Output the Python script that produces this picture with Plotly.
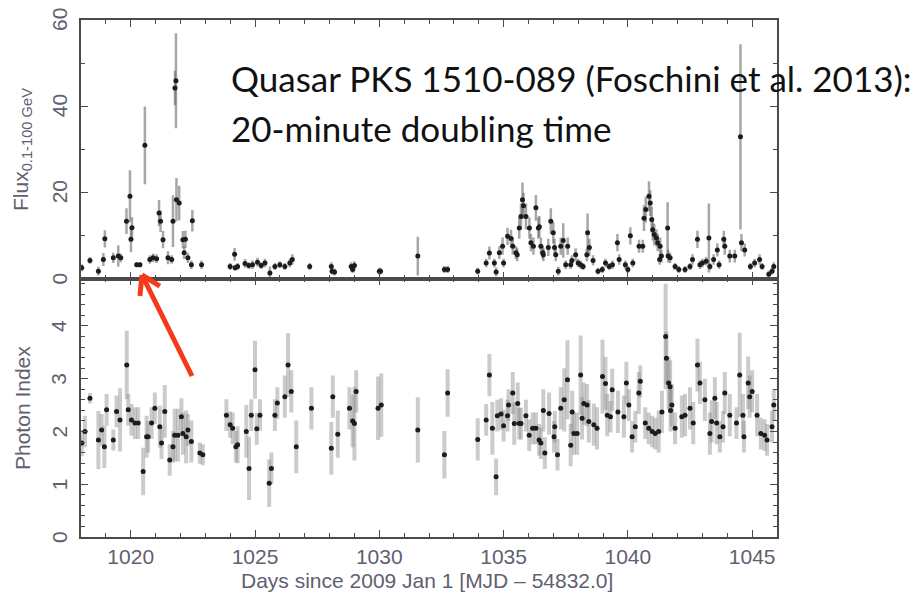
import math
import plotly.graph_objects as go
from plotly.subplots import make_subplots

# ---- Flux (0.1-100 GeV), 10^-6 ph cm^-2 s^-1 ----
flux_day = [1018.03, 1018.36, 1018.70, 1018.90, 1018.96, 1019.30, 1019.50, 1019.60, 1019.83, 1019.97,
            1020.01, 1020.05, 1020.24, 1020.37, 1020.57, 1020.77, 1020.90, 1021.04, 1021.14, 1021.20,
            1021.30, 1021.50, 1021.65, 1021.70, 1021.78, 1021.82, 1021.84, 1021.95, 1022.10, 1022.15,
            1022.20, 1022.30, 1022.44, 1022.48, 1022.85,
            1024.00, 1024.18, 1024.20, 1024.30, 1024.60, 1024.75, 1024.90, 1025.10, 1025.25, 1025.40,
            1025.60, 1025.80, 1026.00, 1026.20, 1026.40, 1026.50, 1027.20, 1028.07, 1028.10, 1028.20,
            1028.87, 1028.93, 1029.00, 1030.00, 1030.05, 1031.55, 1032.62, 1032.75,
            1033.96, 1034.30, 1034.43, 1034.63, 1034.70, 1034.83, 1034.96, 1035.00, 1035.16, 1035.30,
            1035.37, 1035.50, 1035.55, 1035.63, 1035.70, 1035.76, 1035.80, 1035.90, 1036.04, 1036.10,
            1036.20, 1036.30, 1036.40, 1036.44, 1036.50, 1036.58, 1036.60, 1036.80, 1036.90, 1037.00,
            1037.05, 1037.10, 1037.20, 1037.30, 1037.40, 1037.50, 1037.58, 1037.70, 1037.75, 1037.90,
            1038.00, 1038.10, 1038.20, 1038.35, 1038.38, 1038.45, 1038.60, 1038.80, 1038.97, 1039.10,
            1039.25, 1039.38, 1039.58, 1039.65, 1039.90, 1040.00, 1040.10, 1040.20, 1040.45, 1040.60,
            1040.65, 1040.72, 1040.85, 1040.90, 1040.96, 1041.00, 1041.06, 1041.15, 1041.20, 1041.28,
            1041.30, 1041.35, 1041.60, 1041.62, 1041.70, 1041.90, 1042.05, 1042.30, 1042.50, 1042.60,
            1042.80, 1042.90, 1043.00, 1043.15, 1043.26, 1043.30, 1043.45, 1043.60, 1043.67, 1043.86,
            1043.90, 1044.10, 1044.30, 1044.53, 1044.57, 1044.70, 1044.93, 1045.10, 1045.30, 1045.40,
            1045.67, 1045.80, 1045.87]
flux_val = [2.5, 4.2, 1.7, 4.4, 9.2, 4.8, 5.2, 4.8, 13.3, 19.1,
            9.1, 11.8, 3.2, 3.2, 30.9, 4.4, 4.8, 4.6, 15.2, 13.3,
            9.0, 4.8, 4.4, 13.3, 44.2, 45.9, 18.3, 17.5, 9.0, 6.0,
            9.1, 4.8, 3.2, 13.4, 3.2,
            2.8, 5.6, 2.5, 2.8, 3.5, 3.0, 3.2, 3.8, 3.0, 3.6,
            1.3, 2.8, 3.2, 2.8, 3.6, 4.4, 2.8, 2.8, 1.7, 1.5,
            2.8, 2.1, 3.0, 1.7, 1.7, 5.2, 2.1, 2.1,
            1.7, 3.6, 5.9, 3.6, 1.5, 6.0, 7.5, 3.6, 9.8, 9.3,
            7.5, 6.0, 5.5, 11.7, 14.4, 18.3, 16.9, 14.4, 11.7, 8.3,
            7.5, 16.4, 11.7, 12.0, 7.5, 6.0, 5.5, 7.2, 13.3, 10.6,
            7.2, 5.5, 1.7, 7.5, 8.8, 3.2, 7.5, 3.2, 4.2, 5.5,
            3.6, 3.2, 2.8, 5.5, 10.6, 7.2, 4.2, 1.7, 2.1, 3.6,
            2.8, 3.2, 8.3, 4.4, 3.2, 2.1, 9.9, 3.6, 7.5, 7.5,
            14.0, 16.0, 19.1, 17.5, 13.7, 11.3, 10.2, 9.4, 8.3, 4.4,
            7.5, 5.2, 11.7, 5.2, 4.8, 2.8, 2.1, 2.1, 2.8, 4.4,
            9.1, 3.2, 3.6, 4.0, 9.4, 2.8, 4.4, 6.6, 3.2, 9.1,
            7.5, 5.2, 5.2, 32.9, 8.3, 6.6, 2.8, 3.6, 4.4, 2.8,
            1.0, 1.7, 2.8]
flux_err = [0.8, 0.8, 1.0, 1.5, 2.0, 1.2, 2.5, 1.0, 3.0, 6.0,
            3.0, 2.5, 0.6, 0.6, 9.0, 1.0, 1.0, 1.0, 3.0, 2.5,
            2.0, 1.5, 1.0, 6.0, 4.0, 11.0, 5.0, 4.0, 2.0, 1.5,
            2.0, 1.2, 1.0, 2.5, 1.0,
            0.8, 1.5, 0.7, 0.8, 1.0, 0.8, 1.0, 1.0, 0.8, 1.0,
            1.5, 0.8, 0.8, 0.8, 1.0, 1.2, 0.8, 1.0, 0.8, 0.8,
            1.0, 0.8, 1.0, 0.8, 0.8, 4.5, 0.8, 0.8,
            0.8, 1.0, 1.5, 1.0, 1.0, 1.5, 2.0, 1.0, 2.0, 2.0,
            2.0, 1.5, 1.5, 2.5, 3.0, 4.0, 3.0, 3.0, 2.5, 2.0,
            2.0, 3.0, 2.5, 2.5, 2.0, 1.5, 1.5, 2.0, 3.0, 2.5,
            2.0, 1.5, 1.0, 2.0, 4.0, 1.0, 2.0, 1.0, 1.2, 1.5,
            1.0, 1.0, 0.8, 1.5, 4.5, 2.0, 1.2, 0.8, 0.8, 1.0,
            0.8, 1.0, 2.0, 1.2, 1.0, 0.8, 2.0, 1.0, 1.5, 1.5,
            3.0, 3.0, 3.5, 3.0, 3.0, 2.5, 2.5, 2.0, 2.0, 1.2,
            2.0, 1.5, 6.0, 1.5, 1.2, 0.8, 0.8, 0.8, 0.8, 1.2,
            2.0, 1.0, 1.0, 1.0, 8.0, 0.8, 1.2, 1.5, 1.0, 2.0,
            2.0, 1.5, 1.5, 21.5, 2.0, 1.5, 0.8, 1.0, 1.2, 0.8,
            0.8, 0.8, 1.0]

# ---- Photon index ----
idx_day = [1018.03, 1018.16, 1018.36, 1018.70, 1018.83, 1018.94, 1019.03, 1019.30, 1019.43, 1019.57,
           1019.84, 1019.90, 1020.03, 1020.17, 1020.30, 1020.50, 1020.64, 1020.70, 1020.84, 1020.97,
           1021.17, 1021.24, 1021.37, 1021.57, 1021.70, 1021.77, 1021.90, 1022.04, 1022.10, 1022.23,
           1022.30, 1022.44, 1022.78, 1022.90,
           1023.85, 1024.00, 1024.10, 1024.23, 1024.30, 1024.65, 1024.76, 1024.85, 1025.00, 1025.07,
           1025.20, 1025.57, 1025.66, 1025.80, 1025.90, 1026.20, 1026.33, 1026.46, 1026.66, 1027.27,
           1028.07, 1028.13, 1028.33, 1028.80, 1028.93, 1029.00, 1029.07, 1029.95, 1030.08, 1031.55,
           1032.62, 1032.75,
           1033.96, 1034.30, 1034.43, 1034.55, 1034.70, 1034.75, 1034.90, 1035.00, 1035.16, 1035.20,
           1035.37, 1035.43, 1035.57, 1035.63, 1035.70, 1035.90, 1036.03, 1036.17, 1036.30, 1036.43,
           1036.50, 1036.60, 1036.66, 1036.83, 1037.03, 1037.06, 1037.17, 1037.30, 1037.44, 1037.57,
           1037.70, 1037.76, 1037.83, 1037.96, 1038.10, 1038.16, 1038.23, 1038.36, 1038.43, 1038.63,
           1038.76, 1038.98, 1039.10, 1039.17, 1039.30, 1039.37, 1039.60, 1039.84, 1039.94, 1040.04,
           1040.17, 1040.30, 1040.44, 1040.50, 1040.70, 1040.84, 1040.98, 1041.10, 1041.24, 1041.37,
           1041.52, 1041.55, 1041.64, 1041.70, 1041.72, 1041.77, 1041.90, 1042.17, 1042.30, 1042.50,
           1042.63, 1042.80, 1042.90, 1043.10, 1043.30, 1043.37, 1043.50, 1043.57, 1043.70, 1043.83,
           1043.90, 1044.10, 1044.37, 1044.50, 1044.63, 1044.67, 1044.84, 1044.90, 1045.00, 1045.20,
           1045.35, 1045.50, 1045.60, 1045.80, 1045.87]
idx_val = [1.78, 2.00, 2.63, 1.84, 2.03, 1.71, 2.41, 1.84, 2.38, 2.22,
           3.26, 2.41, 2.22, 2.16, 2.16, 1.24, 1.90, 1.90, 2.16, 2.44,
           2.09, 1.78, 2.38, 1.46, 1.71, 1.93, 1.93, 2.28, 1.96, 1.90,
           2.03, 1.81, 1.59, 1.56,
           2.31, 2.13, 2.06, 1.71, 1.75, 2.00, 1.30, 2.31, 3.17, 2.05,
           2.31, 1.02, 1.30, 2.31, 2.54, 2.66, 3.26, 2.76, 1.71, 2.44,
           1.68, 2.66, 1.95, 2.44, 2.20, 2.15, 2.76, 2.44, 2.50, 2.03,
           1.56, 2.73,
           1.85, 2.22, 3.07, 2.06, 1.14, 2.30, 2.33, 2.11, 2.30, 2.50,
           2.73, 2.15, 2.53, 2.15, 2.15, 2.30, 1.93, 2.06, 2.06, 1.84,
           1.78, 2.40, 1.59, 2.34, 1.90, 2.09, 1.56, 2.44, 2.60, 2.98,
           1.74, 2.37, 1.96, 1.96, 3.07, 2.25, 2.53, 2.50, 2.19, 2.13,
           2.06, 3.04, 2.91, 2.31, 2.28, 2.79, 2.37, 2.28, 2.92, 2.50,
           1.90, 2.09, 2.73, 2.95, 2.16, 2.06, 2.00, 1.96, 2.00, 2.37,
           3.80, 3.39, 2.92, 2.85, 2.40, 2.50, 2.06, 2.28, 2.31, 2.44,
           2.16, 3.26, 2.92, 2.60, 1.96, 2.19, 2.63, 2.16, 1.90, 2.09,
           2.73, 2.31, 2.16, 3.07, 2.31, 1.90, 2.92, 2.66, 2.76, 2.31,
           1.96, 1.93, 1.84, 2.09, 2.50]
idx_err = [0.25, 0.30, 0.10, 0.55, 0.30, 0.40, 0.30, 0.20, 0.30, 0.60,
           0.65, 0.30, 0.30, 0.30, 0.30, 0.45, 0.40, 0.30, 0.30, 0.30,
           0.40, 0.30, 0.50, 0.30, 0.30, 0.50, 0.50, 0.35, 0.40, 0.50,
           0.30, 0.40, 0.20, 0.20,
           0.30, 0.25, 0.30, 0.30, 0.35, 0.50, 0.60, 0.30, 0.55, 0.30,
           0.30, 0.45, 0.30, 0.30, 0.30, 0.40, 0.60, 0.40, 0.50, 0.40,
           0.50, 0.40, 0.45, 0.40, 0.50, 0.70, 0.40, 0.60, 0.60, 0.62,
           0.45, 0.45,
           0.40, 0.30, 0.40, 0.50, 0.35, 0.30, 0.30, 0.30, 0.30, 0.30,
           0.40, 0.40, 0.40, 0.30, 0.30, 0.30, 0.30, 0.30, 0.30, 0.30,
           0.30, 0.40, 0.30, 0.40, 0.30, 0.30, 0.30, 0.40, 0.60, 0.75,
           0.40, 0.40, 0.40, 0.40, 0.75, 0.40, 0.40, 0.40, 0.40, 0.40,
           0.40, 0.70, 0.50, 0.40, 0.30, 0.40, 0.40, 0.40, 0.40, 0.30,
           0.30, 0.30, 0.40, 0.30, 0.30, 0.30, 0.30, 0.30, 0.40, 0.40,
           1.00, 0.50, 0.50, 0.50, 0.40, 0.40, 0.30, 0.40, 0.40, 0.40,
           0.40, 0.50, 0.40, 0.40, 0.40, 0.40, 0.40, 0.40, 0.30, 0.30,
           0.40, 0.40, 0.30, 0.80, 0.40, 0.30, 0.50, 0.40, 0.40, 0.40,
           0.30, 0.30, 0.30, 0.30, 0.30]

x_ticks = [1020, 1025, 1030, 1035, 1040, 1045]
flux_ticks = [0, 20, 40, 60]
idx_ticks = [0, 1, 2, 3, 4]

W, H = 911, 592
ML, MR, MT, MB = 81, 134, 20, 55
PW, PH = W - ML - MR, H - MT - MB

AXIS_COLOR = "#4a4a4a"
LABEL_COLOR = "#5f6070"
FONT = "Liberation Sans, Arial, sans-serif"


def px(xp):
    return (xp - ML) / PW


def py(yp):
    return (H - MB - yp) / PH


fig = make_subplots(rows=2, cols=1, shared_xaxes=True, vertical_spacing=0)

fig.add_trace(go.Scatter(
    x=flux_day, y=flux_val, mode="markers",
    marker=dict(size=5, color="#1c1c1c"),
    error_y=dict(type="data", array=flux_err, color="rgba(95,95,95,0.55)", thickness=2.5, width=0),
    showlegend=False), row=1, col=1)

fig.add_trace(go.Scatter(
    x=idx_day, y=idx_val, mode="markers",
    marker=dict(size=5, color="#1c1c1c"),
    error_y=dict(type="data", array=idx_err, color="rgba(140,140,140,0.45)", thickness=4, width=0),
    showlegend=False), row=2, col=1)

common_axis = dict(
    showline=True, linecolor=AXIS_COLOR, linewidth=1.5, mirror="ticks",
    ticks="inside", tickcolor=AXIS_COLOR, ticklen=7, tickwidth=1.2,
    showgrid=False, zeroline=False,
    tickfont=dict(family=FONT, size=21, color=LABEL_COLOR),
)

fig.update_xaxes(range=[1018, 1046], tickvals=x_ticks,
                 minor=dict(dtick=1, tick0=1018, ticks="inside", ticklen=4, tickcolor=AXIS_COLOR),
                 **common_axis)
fig.update_xaxes(showticklabels=False, row=1, col=1)
fig.update_xaxes(showticklabels=True, row=2, col=1)

# y tick labels are drawn rotated as annotations below
fig.update_yaxes(range=[0, 60], tickvals=flux_ticks, showticklabels=False,
                 minor=dict(dtick=10, ticks="inside", ticklen=4, tickcolor=AXIS_COLOR),
                 row=1, col=1, **common_axis)
fig.update_yaxes(range=[0, 4.9], tickvals=idx_ticks, showticklabels=False,
                 minor=dict(dtick=0.2, ticks="inside", ticklen=4, tickcolor=AXIS_COLOR),
                 row=2, col=1, **common_axis)

tick_font = dict(family=FONT, size=21, color=LABEL_COLOR)
title_font = dict(family=FONT, size=21, color=LABEL_COLOR)
annotations = []
for v in flux_ticks:
    annotations.append(dict(text=str(v), x=px(59), y=v, yref="y", textangle=-90, font=tick_font))
for v in idx_ticks:
    annotations.append(dict(text=str(v), x=px(59), y=v, yref="y2", textangle=-90, font=tick_font))

annotations += [
    dict(text="Flux<sub>0.1-100 GeV</sub>", x=px(22), y=py(150), textangle=-90, font=title_font),
    dict(text="Photon Index", x=px(22), y=py(408), textangle=-90, font=title_font),
    dict(text="Days since 2009 Jan 1 [MJD \u2013 54832.0]", x=px(427), y=py(580), font=title_font),
]
note_font = dict(family="Lato, sans-serif", size=35, color="#111111")
annotations += [
    dict(text="Quasar PKS 1510-089 (Foschini et al. 2013):", x=px(229), y=py(78),
         xanchor="left", font=note_font),
    dict(text="20-minute doubling time", x=px(229), y=py(128),
         xanchor="left", font=note_font),
]
for a in annotations:
    a.setdefault("yref", "paper")
    a.update(xref="paper", showarrow=False)
    a.setdefault("xanchor", "center")
    a.setdefault("yanchor", "middle")

# Red pointer arrow: shaft plus two chevron wings
ARROW = "#f53a1a"
tip = (142, 275)
tail = (192, 376)
dx, dy = tail[0] - tip[0], tail[1] - tip[1]
n = math.hypot(dx, dy)
ux, uy = dx / n, dy / n
shapes = [dict(type="line", x0=px(tail[0]), y0=py(tail[1]), x1=px(tip[0]), y1=py(tip[1]))]
for ang in (math.radians(32), math.radians(-32)):
    wx = ux * math.cos(ang) - uy * math.sin(ang)
    wy = ux * math.sin(ang) + uy * math.cos(ang)
    shapes.append(dict(type="line", x0=px(tip[0]), y0=py(tip[1]),
                       x1=px(tip[0] + 21 * wx), y1=py(tip[1] + 21 * wy)))
for s in shapes:
    s.update(xref="paper", yref="paper", line=dict(color=ARROW, width=5))

fig.update_layout(
    width=W, height=H,
    margin=dict(l=ML, r=MR, t=MT, b=MB, autoexpand=False),
    paper_bgcolor="white", plot_bgcolor="white",
    annotations=annotations, shapes=shapes,
)

fig.write_html("out.html")
